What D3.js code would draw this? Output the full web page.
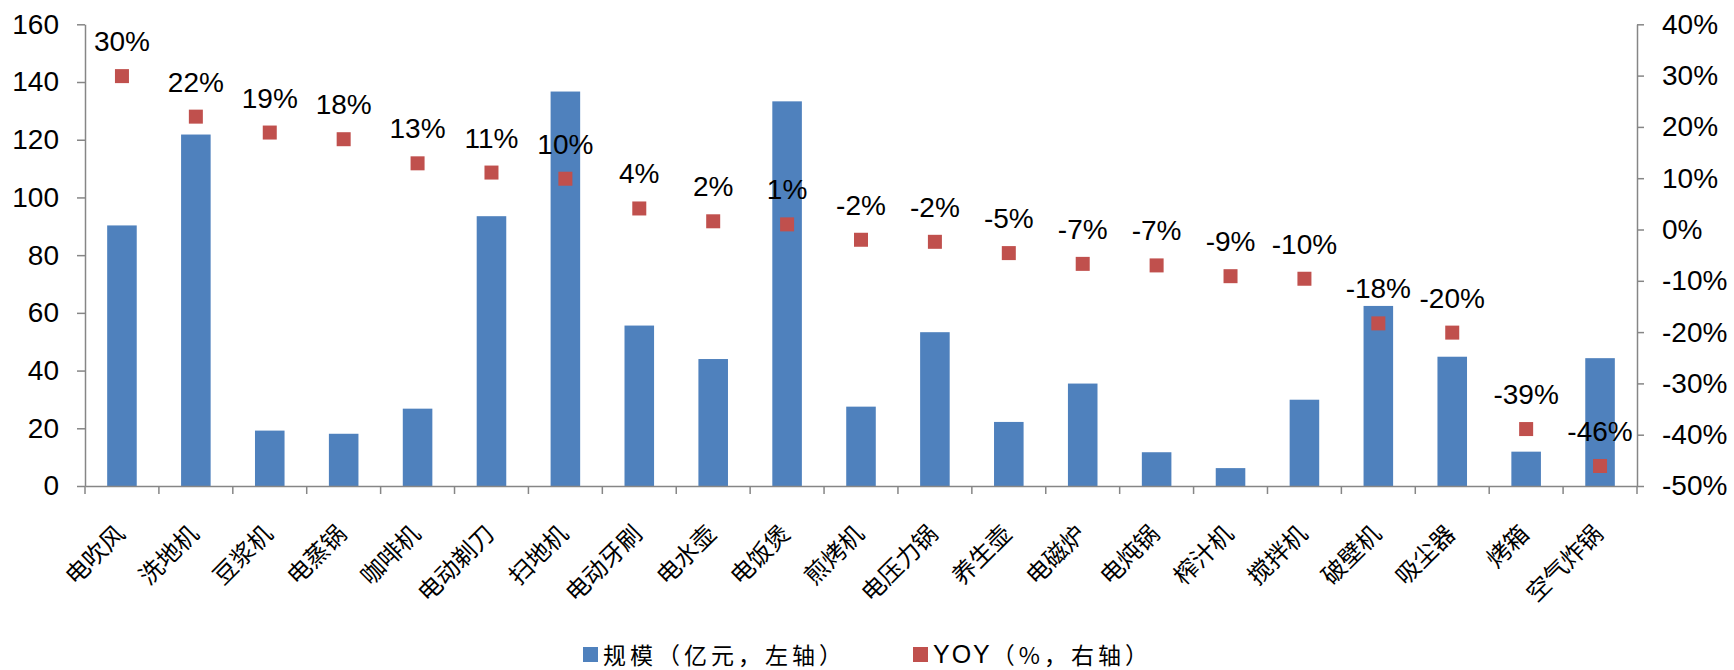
<!DOCTYPE html>
<html>
<head>
<meta charset="utf-8">
<script src="https://cdn.jsdelivr.net/npm/d3@7"></script>
<style>
  html, body { margin: 0; padding: 0; background: #fff; }
  svg { display: block; }
  .num { font-family: "Liberation Sans", Arial, sans-serif; }
  .cjk { font-family: "Noto Sans CJK SC", sans-serif; }
</style>
</head>
<body>
<svg id="chart" width="1734" height="670"></svg>
<script>
const categories = ["电吹风","洗地机","豆浆机","电蒸锅","咖啡机","电动剃刀","扫地机","电动牙刷","电水壶","电饭煲","煎烤机","电压力锅","养生壶","电磁炉","电炖锅","榨汁机","搅拌机","破壁机","吸尘器","烤箱","空气炸锅"];
const scaleValues = [90.3,121.8,19.2,18.1,26.8,93.5,136.7,55.6,44.0,133.3,27.5,53.3,22.2,35.5,11.7,6.2,29.9,62.4,44.8,11.9,44.3];
const yoyValues = [29.9,22.0,18.9,17.6,12.9,11.1,9.9,4.1,1.6,1.0,-2.0,-2.4,-4.6,-6.7,-7.0,-9.1,-9.6,-18.3,-20.1,-38.9,-46.1];
const leftTicks = [0,20,40,60,80,100,120,140,160];
const rightTicks = [-50,-40,-30,-20,-10,0,10,20,30,40];
const legendLabels = [["规模（亿元，左轴）"], ["YOY", "（%，右轴）"]];

const colors = { bar: "#4F81BD", point: "#C0504D", axis: "#868686", text: "#000" };
const plot = { left: 85, right: 1637, top: 24.3, bottom: 486 };

const svg = d3.select("#chart");

const x = d3.scaleBand().domain(categories).range([plot.left, plot.right]).paddingInner(0).paddingOuter(0);
const yL = d3.scaleLinear().domain([0,160]).range([plot.bottom, plot.top]);
const yR = d3.scaleLinear().domain([-50,40]).range([plot.bottom, plot.top]);

const barW = x.bandwidth() * 0.4;

// bars
svg.append("g").selectAll("rect").data(categories).join("rect")
  .attr("x", (d) => x(d) + x.bandwidth()/2 - barW/2)
  .attr("y", (d,i) => yL(scaleValues[i]))
  .attr("width", barW)
  .attr("height", (d,i) => yL(0) - yL(scaleValues[i]))
  .attr("fill", colors.bar);

// left axis
const gL = svg.append("g").attr("transform", `translate(${plot.left},0)`)
  .call(d3.axisLeft(yL).tickValues(leftTicks).tickSize(8).tickSizeOuter(0).tickPadding(18));
// right axis
const gR = svg.append("g").attr("transform", `translate(${plot.right},0)`)
  .call(d3.axisRight(yR).tickValues(rightTicks).tickFormat(d => d + "%").tickSize(7).tickSizeOuter(0).tickPadding(18));
[gL, gR].forEach(g => {
  g.select(".domain").attr("stroke", colors.axis).attr("stroke-width", 1.5);
  g.selectAll(".tick line").attr("stroke", colors.axis).attr("stroke-width", 1.5);
  g.selectAll(".tick text").attr("class", "num").attr("font-size", 28).attr("fill", colors.text);
});

// bottom axis
const gB = svg.append("g").attr("transform", `translate(0,${plot.bottom})`)
  .call(d3.axisBottom(x).tickSize(0).tickSizeOuter(0).tickFormat(""));
gB.select(".domain").attr("stroke", colors.axis).attr("stroke-width", 1.5);
gB.selectAll(".tick").remove();
const bounds = categories.map(d => x(d)).concat([x(categories[categories.length-1]) + x.step()]);
gB.selectAll("line.bt").data(bounds).join("line")
  .attr("class", "bt")
  .attr("x1", d => d).attr("x2", d => d)
  .attr("y1", 0).attr("y2", 8)
  .attr("stroke", colors.axis).attr("stroke-width", 1.5);

// x labels
svg.append("g").selectAll("text").data(categories).join("text")
  .attr("class", "cjk")
  .attr("transform", d => `translate(${x(d) + x.bandwidth()/2 - 3},${plot.bottom + 42}) rotate(-45)`)
  .attr("text-anchor", "end")
  .attr("dominant-baseline", "central")
  .attr("font-size", 24)
  .attr("fill", colors.text)
  .text(d => d);

// points
const ms = 14;
svg.append("g").selectAll("rect").data(categories).join("rect")
  .attr("x", d => x(d) + x.bandwidth()/2 - ms/2)
  .attr("y", (d,i) => yR(yoyValues[i]) - ms/2)
  .attr("width", ms).attr("height", ms)
  .attr("fill", colors.point);

// point labels
svg.append("g").selectAll("text").data(categories).join("text")
  .attr("class", "num")
  .attr("x", d => x(d) + x.bandwidth()/2)
  .attr("y", (d,i) => yR(yoyValues[i]) - 25)
  .attr("text-anchor", "middle")
  .attr("font-size", 28)
  .attr("fill", colors.text)
  .text((d,i) => Math.round(yoyValues[i]) + "%");

// legend
const legend = [
  { parts: legendLabels[0], color: colors.bar, x: 583 },
  { parts: legendLabels[1], color: colors.point, x: 913 }
];
const lg = svg.append("g");
legend.forEach(l => {
  lg.append("rect").attr("x", l.x).attr("y", 647).attr("width", 15).attr("height", 15).attr("fill", l.color);
  const t = lg.append("text")
    .attr("x", l.x + 20).attr("y", 654)
    .attr("dominant-baseline", "central")
    .attr("fill", colors.text);
  l.parts.forEach(p => {
    const latin = /^[A-Za-z]+$/.test(p);
    t.append("tspan")
      .attr("class", latin ? "num" : "cjk")
      .attr("font-size", latin ? 25 : 23)
      .attr("letter-spacing", latin ? 2 : 4)
      .text(p);
  });
});
</script>
</body>
</html>
